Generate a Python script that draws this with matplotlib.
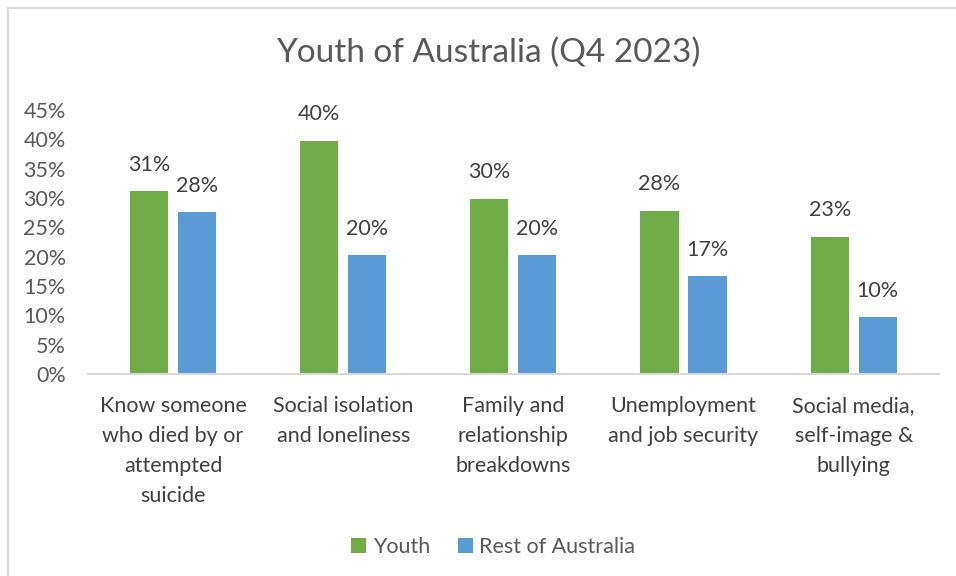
import matplotlib.pyplot as plt
import numpy as np
from matplotlib.lines import Line2D

plt.rcParams['font.family'] = ['Lato', 'DejaVu Sans']

categories = ['Know someone\nwho died by or\nattempted\nsuicide',
              'Social isolation\nand loneliness',
              'Family and\nrelationship\nbreakdowns',
              'Unemployment\nand job security',
              'Social media,\nself-image &\nbullying']
youth = [31.2, 39.8, 29.9, 27.8, 23.4]
rest_of_australia = [27.6, 20.2, 20.2, 16.7, 9.7]
yticks = [0, 5, 10, 15, 20, 25, 30, 35, 40, 45]

green = '#70AD47'
blue = '#5B9BD5'
grey_text = '#595959'

fig = plt.figure(figsize=(9.56, 5.76), dpi=100)
ax = fig.add_axes([0.092, 0.351, 0.890, 0.458])

x = np.arange(len(categories))
w = 0.224
off = 0.141
b1 = ax.bar(x - off, youth, w, color=green, label='Youth')
b2 = ax.bar(x + off, rest_of_australia, w, color=blue, label='Rest of Australia')

for bars, vals in ((b1, youth), (b2, rest_of_australia)):
    for rect, v in zip(bars, vals):
        ax.annotate(f'{v:.0f}%', (rect.get_x() + rect.get_width() / 2, v),
                    xytext=(0, 19), textcoords='offset points',
                    ha='center', va='center', fontsize=15.5, color='#404040')

ax.set_xlim(-0.5, len(categories) - 0.5)
ax.set_ylim(0, 45)
ax.set_yticks(yticks)
ax.set_yticklabels([f'{t}%' for t in yticks], fontsize=15.5, color=grey_text)
ax.set_xticks(x)
ax.set_xticklabels(categories, fontsize=15.5, color='#404040', linespacing=1.62, va='top')
ax.tick_params(axis='both', length=0)
ax.tick_params(axis='x', pad=16)
ax.tick_params(axis='y', pad=16)

for s in ('top', 'right', 'left'):
    ax.spines[s].set_visible(False)
ax.spines['bottom'].set_color('#D9D9D9')
ax.spines['bottom'].set_linewidth(1.5)

fig.text(0.511, 0.908, 'Youth of Australia (Q4 2023)', ha='center', va='center',
         fontsize=24, color=grey_text)

fig.legend(handles=[b1, b2], loc='center', bbox_to_anchor=(0.516, 0.05), ncol=2,
           frameon=False, fontsize=15.5, handlelength=0.7, handleheight=0.7,
           handletextpad=0.3, columnspacing=1.3, labelcolor=grey_text)

# chart frame
fig.add_artist(Line2D([0.008, 0.008], [0, 0.986], transform=fig.transFigure,
                      color='#D9D9D9', lw=1.5))
fig.add_artist(Line2D([0.008, 1.0], [0.986, 0.986], transform=fig.transFigure,
                      color='#D9D9D9', lw=1.5))

fig.savefig('out.png', dpi=100)
